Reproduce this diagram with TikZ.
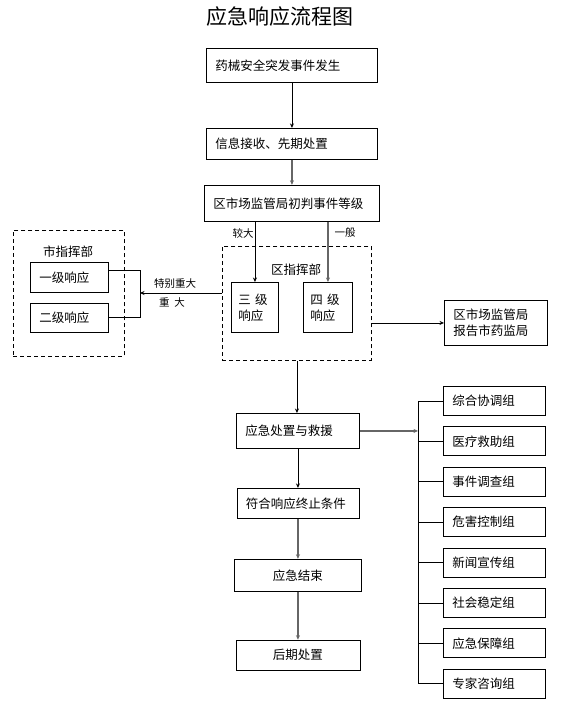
\documentclass[tikz,border=0pt]{standalone}
\usepackage{fontspec}
\setmainfont{Noto Sans CJK SC}
\usetikzlibrary{arrows.meta,positioning,calc}

\begin{document}
\begin{tikzpicture}[
  x=1pt, y=-1pt,
  >={Stealth[length=4.5pt,width=4pt]},
  node distance=10.5pt,
  every node/.style={font=\fontsize{12.5}{16}\selectfont},
  fbox/.style={draw,line width=0.9pt,align=left,inner xsep=9pt,inner ysep=0pt},
  cbox/.style={fbox,align=center},
  gbox/.style={fbox,text width=84pt,minimum height=29pt},
  hq/.style={draw,line width=0.9pt,dash pattern=on 4pt off 3pt},
  flow/.style={->,line width=0.9pt},
  flowg/.style={->,line width=1.4pt,black!60},
  lbl/.style={font=\fontsize{10.5}{13}\selectfont}
]
\useasboundingbox (0,0) rectangle (575,720);

\node[font=\fontsize{21}{24}\selectfont] (title) at (280,17) {应急响应流程图};

% main column
\node[fbox,anchor=north west,text width=153pt,minimum height=34pt] (s1) at (206,48) {药械安全突发事件发生};
\node[fbox,below=45pt of s1,text width=153pt,minimum height=31pt] (s2) {信息接收、先期处置};
\node[fbox,below=25pt of s2,text width=157pt,minimum height=36pt] (s3) {区市场监管局初判事件等级};

% district command
\node[hq,anchor=north west,minimum width=149pt,minimum height=114pt] (qzh) at (222,246) {};
\node (qzhl) at (296,270) {区指挥部};
\node[fbox,anchor=north west,inner xsep=7pt,text width=33pt,minimum height=50pt] (sj) at (231,282) {三 级\\响应};
\node[fbox,anchor=north west,inner xsep=7pt,text width=35pt,minimum height=50pt] (ej4) at (303,282) {四 级\\响应};
\node[lbl] (lb1) at (243,233) {较大};
\node[lbl] (lb2) at (345,233) {一般};

\node[fbox,anchor=north west,text width=85pt,minimum height=45pt] (rp) at (444,300) {区市场监管局\\报告市药监局};

% city command
\node[hq,anchor=north west,minimum width=111pt,minimum height=126pt] (szh) at (13,230) {};
\node (szhl) at (68,252) {市指挥部};
\node[fbox,anchor=north west,text width=60pt,minimum height=30pt] (yj) at (30,262) {一级响应};
\node[fbox,below=10pt of yj,text width=60pt,minimum height=29pt] (rj) {二级响应};
\coordinate (brk) at (140,293);
\node[lbl] (lb3) at (175,284) {特别重大};
\node[lbl] (lb4) at (172,303) {重\ \ 大};

% response
\node[fbox,anchor=north west,text width=105pt,minimum height=35pt] (jy) at (236,413) {应急处置与救援};
\node[fbox,below=39pt of jy,text width=104pt,minimum height=30pt] (zz) {符合响应终止条件};
\node[cbox,below=40pt of zz,text width=109pt,minimum height=32pt] (js) {应急结束};
\node[cbox,below=48pt of js,text width=106pt,minimum height=30pt] (hc) {后期处置};

% working groups
\node[gbox,anchor=north west] (g1) at (443,386) {综合协调组};
\node[gbox,below=of g1] (g2) {医疗救助组};
\node[gbox,below=of g2] (g3) {事件调查组};
\node[gbox,below=of g3] (g4) {危害控制组};
\node[gbox,below=of g4] (g5) {新闻宣传组};
\node[gbox,below=of g5] (g6) {社会稳定组};
\node[gbox,below=of g6] (g7) {应急保障组};
\node[gbox,below=of g7] (g8) {专家咨询组};
\coordinate (bus) at (418,431);

\draw[flow] (s1) -- (s2);
\draw[flowg] (s2) -- (s3);
\draw[flow] (s3.south -| sj.north) -- (sj.north);
\draw[flowg] (s3.south -| ej4.north) -- (ej4.north);
\draw[flow] (qzh.east |- rp.west) -- (rp.west);
\draw[line width=0.9pt] ([yshift=7pt]yj.east) -- ([yshift=7pt]yj.east -| brk) -- (rj.east -| brk) -- (rj.east);
\draw[flow] (qzh.west |- brk) -- (brk);
\draw[flow] (qzh.south) -- (qzh.south |- jy.north);
\draw[flow] (jy) -- (zz);
\draw[flowg] (zz) -- (js);
\draw[flowg] (js) -- (hc);
\draw[flowg] (jy.east) -- (bus |- jy.east);
\draw[line width=0.9pt] (bus |- g1.west) -- (bus |- g8.west);
\draw[line width=0.9pt] (bus |- g1.west) -- (g1.west);
\draw[line width=0.9pt] (bus |- g2.west) -- (g2.west);
\draw[line width=0.9pt] (bus |- g3.west) -- (g3.west);
\draw[line width=0.9pt] (bus |- g4.west) -- (g4.west);
\draw[line width=0.9pt] (bus |- g5.west) -- (g5.west);
\draw[line width=0.9pt] (bus |- g6.west) -- (g6.west);
\draw[line width=0.9pt] (bus |- g7.west) -- (g7.west);
\draw[line width=0.9pt] (bus |- g8.west) -- (g8.west);
\end{tikzpicture}
\end{document}
